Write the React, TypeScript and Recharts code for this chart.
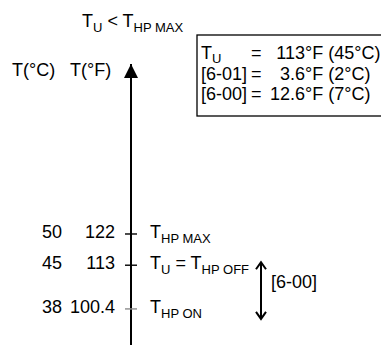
import React from 'react';
import { ComposedChart, XAxis, YAxis, ReferenceArea } from 'recharts';

const fahrenheitTicks = [122, 113, 100.4];
const celsiusTicks = [50, 45, 38];
// each label is a list of [text, subscript] pairs
const tickLabels: [string, string][][] = [
  [['T', 'HP MAX']],
  [['T', 'U'], [' = T', 'HP OFF']],
  [['T', 'HP ON']],
];
const hysteresisRange = [100.4, 113];
const hysteresisLabel = '[6-00]';
const axisTitles = ['T(°C)', 'T(°F)'];
const titleParts: [string, string][] = [['T', 'U'], [' < T', 'HP MAX']];
const infoLabels: [string, string][] = [['T', 'U'], ['[6-01]', ''], ['[6-00]', '']];
const infoNumbers = ['113', '3.6', '12.6'];
const infoUnits = ['°F (45°C)', '°F (2°C)', '°F (7°C)'];

const FONT = '"Liberation Sans", Arial, Helvetica, sans-serif';
const SUB = 13;
const SUB_DY = 5;

const chartData = fahrenheitTicks.map((f, i) => ({ i, f }));

function withSubs(parts: [string, string][], dy = SUB_DY) {
  return parts.flatMap(([t, s], k) => [
    <tspan key={`t${k}`} dy={k ? -dy : 0}>{t}</tspan>,
    s ? (
      <tspan key={`s${k}`} dy={dy} fontSize={SUB}>{s}</tspan>
    ) : null,
  ]);
}

function FahrenheitTick(props: any) {
  const { x, y, payload } = props;
  const i = fahrenheitTicks.indexOf(payload.value);
  const color = i === fahrenheitTicks.length - 1 ? '#8c8c8c' : '#000';
  return (
    <g fontFamily={FONT} fontSize={18} fill="#000">
      <line x1={x - 6} x2={x + 6} y1={y} y2={y} stroke={color} strokeWidth={1.4} />
      <text x={x - 69} y={y + 4} textAnchor="end">{celsiusTicks[i]}</text>
      <text x={x - 16} y={y + 4} textAnchor="end">{payload.value}</text>
      <text x={x + 19} y={y + 4}>{withSubs(tickLabels[i])}</text>
    </g>
  );
}

function AxisHead(props: any) {
  const { x, y, width } = props.viewBox;
  const ax = x + width;
  return <polygon points={`${ax},${y} ${ax - 7},${y + 14} ${ax + 7},${y + 14}`} fill="#000" />;
}

function HysteresisArrow(props: any) {
  const { x, y, height } = props;
  const ax = x + 130;
  const top = y - 3;
  const bottom = y + height + 10;
  return (
    <g>
      <line x1={ax} x2={ax} y1={top} y2={bottom} stroke="#000" strokeWidth={2} />
      <polyline points={`${ax - 5},${top + 7} ${ax},${top} ${ax + 5},${top + 7}`} fill="none" stroke="#000" strokeWidth={2} />
      <polyline points={`${ax - 5},${bottom - 7} ${ax},${bottom} ${ax + 5},${bottom - 7}`} fill="none" stroke="#000" strokeWidth={2} />
      <text x={ax + 10} y={y + height / 2 + 1} fontFamily={FONT} fontSize={18} fill="#000">{hysteresisLabel}</text>
    </g>
  );
}

export default function App() {
  return (
    <div style={{ position: 'absolute', left: 0, top: 0, width: 381, height: 345, overflow: 'hidden', background: '#fff' }}>
      <ComposedChart width={381} height={345} data={chartData} margin={{ top: 64, right: 0, bottom: 0, left: 0 }}>
        <XAxis dataKey="i" type="number" domain={[0, 1]} hide />
        <YAxis
          dataKey="f"
          type="number"
          width={131}
          domain={[90, 171]}
          ticks={fahrenheitTicks}
          interval={0}
          allowDataOverflow
          tickSize={0}
          tickMargin={0}
          tickLine={false}
          axisLine={{ stroke: '#000', strokeWidth: 2 }}
          tick={<FahrenheitTick />}
          label={(p: any) => <AxisHead {...p} />}
        />
        <ReferenceArea
          y1={hysteresisRange[0]}
          y2={hysteresisRange[1]}
          ifOverflow="visible"
          shape={<HysteresisArrow />}
        />
      </ComposedChart>
      <svg width={381} height={345} style={{ position: 'absolute', left: 0, top: 0, pointerEvents: 'none' }} fontFamily={FONT} fontSize={18} fill="#000">
        <text x={82} y={27}>{withSubs(titleParts)}</text>
        <text x={12} y={76}>{axisTitles[0]}</text>
        <text x={70} y={76}>{axisTitles[1]}</text>
        <rect x={197} y={35} width={300} height={81} fill="none" stroke="#000" strokeWidth={1.3} />
        {infoLabels.map((lab, r) => (
          <g key={r}>
            <text x={201} y={59 + r * 20.5}>{withSubs([lab], 4)}</text>
            <text x={251} y={59 + r * 20.5}>=</text>
            <text x={305} y={59 + r * 20.5} textAnchor="end">{infoNumbers[r]}</text>
            <text x={305} y={59 + r * 20.5}>{infoUnits[r]}</text>
          </g>
        ))}
      </svg>
    </div>
  );
}
